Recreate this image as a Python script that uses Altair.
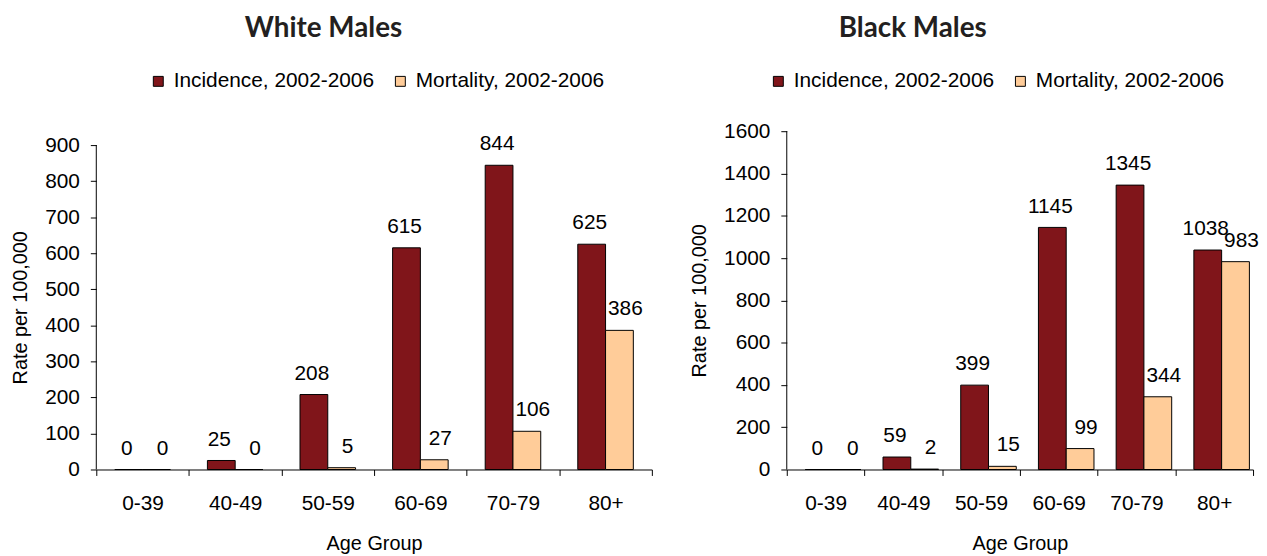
import altair as alt
import pandas as pd

age_groups = ["0-39", "40-49", "50-59", "60-69", "70-79", "80+"]
series_names = ["Incidence, 2002-2006", "Mortality, 2002-2006"]
white_incidence = [0, 25, 208, 615, 844, 625]
white_mortality = [0, 0, 5, 27, 106, 386]
black_incidence = [0, 59, 399, 1145, 1345, 1038]
black_mortality = [0, 2, 15, 99, 344, 983]
white_ticks = [0, 100, 200, 300, 400, 500, 600, 700, 800, 900]
black_ticks = [0, 200, 400, 600, 800, 1000, 1200, 1400, 1600]
bar_colors = ["#80151A", "#FFCC99"]

FONT = "Liberation Sans"
TITLE_FONT = "Lato"
PLOT_H = 341


def frame(inc, mort):
    rows = []
    for g, a, b in zip(age_groups, inc, mort):
        rows.append({"age": g, "series": series_names[0], "value": a})
        rows.append({"age": g, "series": series_names[1], "value": b})
    return pd.DataFrame(rows)


def panel(title, title_dx, inc, mort, ticks, w, axis_px, lx, ly):
    df = frame(inc, mort)
    top = ticks[-1]
    dom_max = top * PLOT_H / axis_px
    x = alt.X(
        "age:N", sort=age_groups,
        scale=alt.Scale(paddingInner=0, paddingOuter=0),
        axis=alt.Axis(title="Age Group", labelAngle=0, tickBand="extent",
                      tickSize=6, labelPadding=17, titlePadding=21),
    )
    xo = alt.XOffset("series:N", sort=series_names,
                     scale=alt.Scale(paddingInner=0, paddingOuter=0.667))
    y_scale = alt.Scale(domain=[0, dom_max], nice=False, zero=True)
    y_axis = alt.Axis(values=ticks, format="d", title="Rate per 100,000", grid=False,
                      domain=False, tickSize=6, labelPadding=11, titlePadding=14,
                      labelOverlap=False, titleY=PLOT_H - axis_px / 2)
    y = alt.Y("value:Q", scale=y_scale, axis=y_axis)
    color = alt.Color(
        "series:N", sort=series_names,
        scale=alt.Scale(domain=series_names, range=bar_colors),
        legend=alt.Legend(orient="none", legendX=lx, legendY=ly, direction="horizontal",
                          title=None, symbolType="square", symbolSize=100,
                          symbolStrokeColor="black", symbolStrokeWidth=1,
                          labelFontSize=21, labelFont=FONT, labelColor="black",
                          labelLimit=500, columnPadding=16, labelOffset=5, padding=0),
    )
    axis_line = alt.Chart(pd.DataFrame({"k": [0]})).mark_rule(
        color="black", strokeWidth=1
    ).encode(
        x=alt.value(0),
        y=alt.Y(datum=0, scale=y_scale, axis=y_axis),
        y2=alt.Y2(datum=top),
    )
    bars = alt.Chart(df).mark_bar(stroke="black", strokeWidth=1).encode(
        x=x, xOffset=xo, y=y, color=color)
    inc_labels = alt.Chart(df).transform_filter(
        alt.datum.series == series_names[0]
    ).mark_text(
        baseline="alphabetic", dy=-15, dx=-2, fontSize=21, font=FONT, color="black"
    ).encode(x=x, xOffset=xo, y=y, text="value:Q")
    mort_labels = alt.Chart(df).transform_filter(
        alt.datum.series == series_names[1]
    ).mark_text(
        baseline="alphabetic", dy=-15, dx=6, fontSize=21, font=FONT, color="black"
    ).encode(x=x, xOffset=xo, y=y, text="value:Q")
    return alt.layer(bars, axis_line, inc_labels, mort_labels).properties(
        width=w, height=PLOT_H,
        title=alt.TitleParams(title, anchor="middle", dx=title_dx, offset=28,
                              font=TITLE_FONT, fontSize=28, fontWeight="bold",
                              color="#231F20"),
    )


left = panel("White Males", -51, white_incidence, white_mortality, white_ticks,
             560, 327, 52, -61)
right = panel("Black Males", -108, black_incidence, black_mortality, black_ticks,
              470, 341, -19, -61)

chart = (
    alt.hconcat(left, right, spacing=37)
    .resolve_scale(color="independent")
    .resolve_legend(color="independent")
    .properties(padding={"left": 2, "top": 5, "right": 0, "bottom": 0})
    .configure_view(stroke=None)
    .configure_axis(
        labelFont=FONT, labelFontSize=21, labelColor="black",
        titleFont=FONT, titleFontSize=20, titleFontWeight="normal", titleColor="black",
        domainColor="black", tickColor="black", domainWidth=1, tickWidth=1,
    )
)

chart.save("out.html", embed_options={"renderer": "svg", "actions": False})
